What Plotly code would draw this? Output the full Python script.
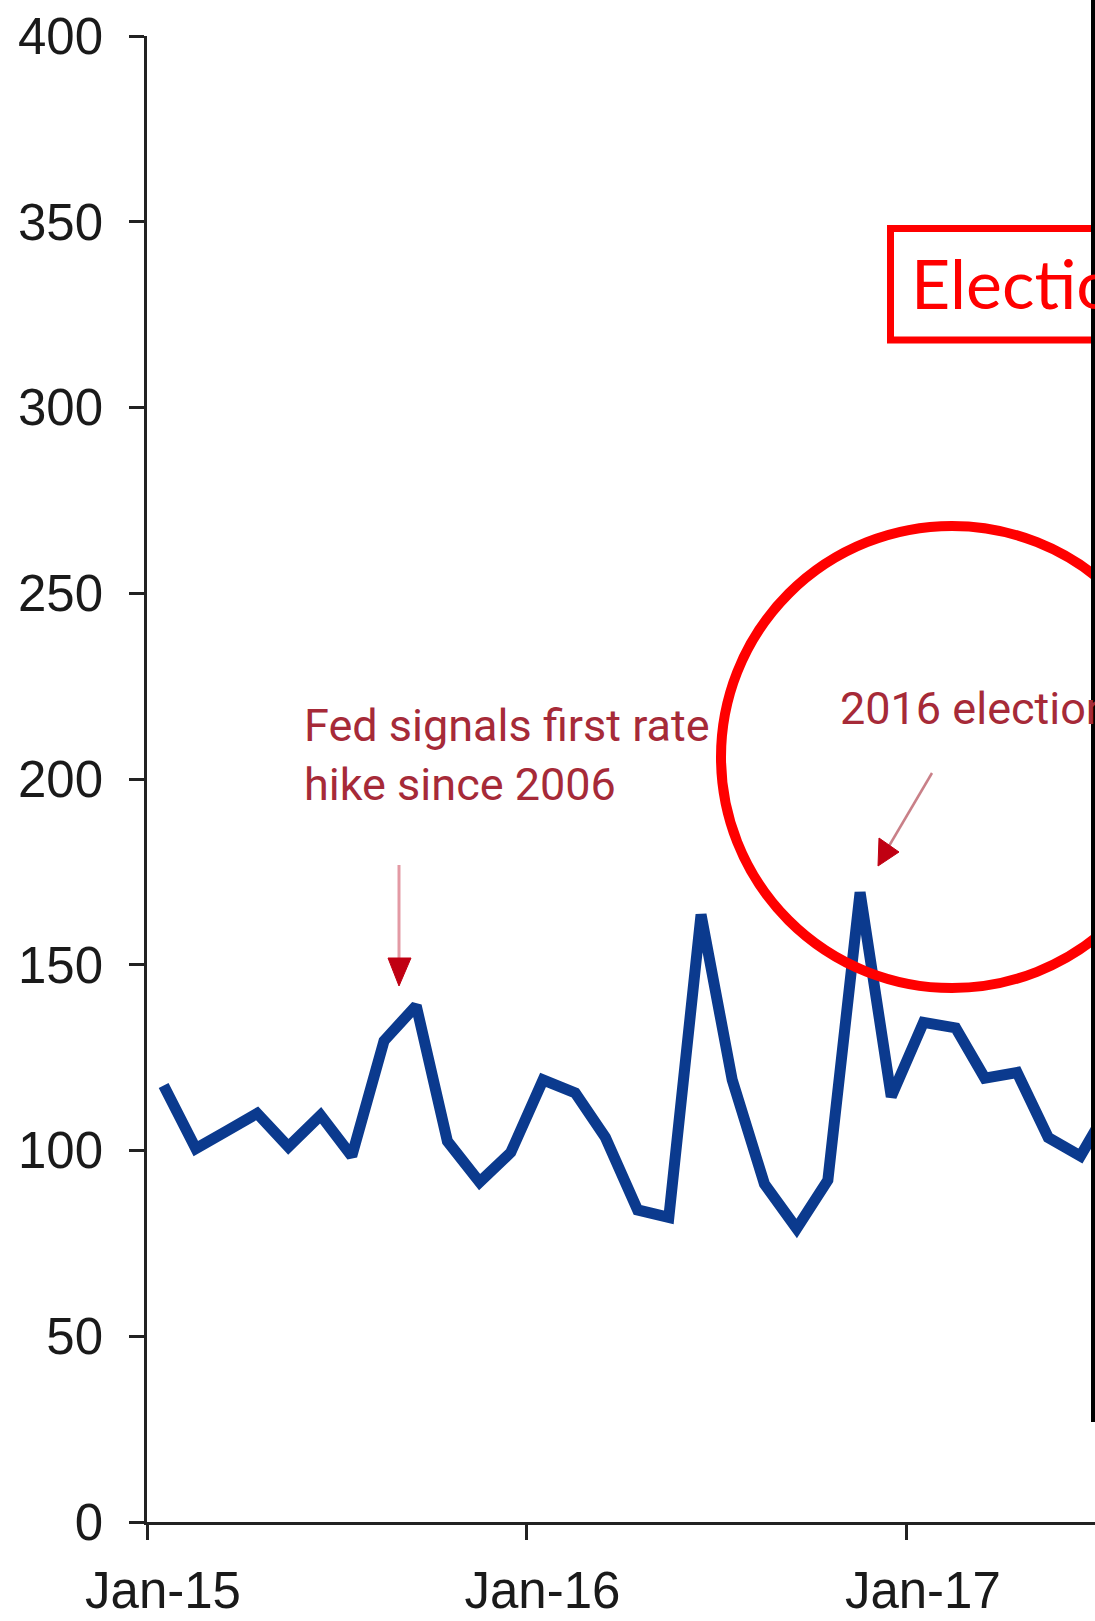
import plotly.graph_objects as go

# ---------------- data ----------------
dates = [
    "2015-01-17", "2015-02-17", "2015-03-17", "2015-04-17", "2015-05-17", "2015-06-17",
    "2015-07-17", "2015-08-17", "2015-09-17", "2015-10-17", "2015-11-17", "2015-12-17",
    "2016-01-17", "2016-02-17", "2016-03-17", "2016-04-17", "2016-05-17", "2016-06-17",
    "2016-07-17", "2016-08-17", "2016-09-17", "2016-10-17", "2016-11-17", "2016-12-17",
    "2017-01-17", "2017-02-17", "2017-03-17", "2017-04-17", "2017-05-17", "2017-06-17",
    "2017-07-17",
]
values = [
    117.5, 100.5, 105, 110, 101, 109.5, 98.5, 129.5, 139, 102.5, 91.5, 99.5,
    119, 115.5, 103.5, 84, 82, 163.5, 119, 91, 79, 92, 169.5, 114.5,
    134.5, 133, 119.5, 121, 103.5, 98.5, 113,
]
y_ticks = [0, 50, 100, 150, 200, 250, 300, 350, 400]
x_tick_dates = ["2015-01-01", "2016-01-01", "2017-01-01"]
x_tick_labels = ["Jan-15", "Jan-16", "Jan-17"]

fed_text = "Fed signals first rate<br>hike since 2006"
election16_text = "2016 election"
box_text = "Election"

# ---------------- layout helpers ----------------
W, H = 1095, 1621
L, R, T, B = 147, 1095, 36, 1522


def px(x):
    return (x - L) / (R - L)


def py(y):
    return (B - y) / (B - T)


TICK_FONT = dict(family="Liberation Sans, Arial, sans-serif", size=51, color="#1a1a1a")
ANN_FONT = dict(family="Roboto, Arial, sans-serif", size=45, color="#A62A38")

fig = go.Figure()
fig.add_trace(go.Scatter(
    x=dates, y=values, mode="lines",
    line=dict(color="#0B3A8E", width=11),
    hoverinfo="skip", showlegend=False,
))

shapes = []
# Fed arrow (line + head)
shapes.append(dict(type="line", xref="paper", yref="paper",
                   x0=px(399), y0=py(865), x1=px(399), y1=py(960),
                   line=dict(color="#E39AA4", width=3)))
shapes.append(dict(type="path", xref="paper", yref="paper",
                   path=f"M {px(388)} {py(958)} L {px(411)} {py(958)} L {px(399)} {py(986)} Z",
                   fillcolor="#C00012", line=dict(color="#C00012", width=1)))
# 2016 election arrow
shapes.append(dict(type="line", xref="paper", yref="paper",
                   x0=px(932), y0=py(773), x1=px(889), y1=py(846),
                   line=dict(color="#C98088", width=2.5)))
shapes.append(dict(type="path", xref="paper", yref="paper",
                   path=f"M {px(878)} {py(866)} L {px(879)} {py(838)} L {px(899)} {py(852)} Z",
                   fillcolor="#C00012", line=dict(color="#C00012", width=1)))
# red circle
cx, cy, r = 952, 757, 231
shapes.append(dict(type="circle", xref="paper", yref="paper",
                   x0=px(cx - r), x1=px(cx + r), y0=py(cy + r), y1=py(cy - r),
                   line=dict(color="#FF0000", width=10)))
# red box
shapes.append(dict(type="rect", xref="paper", yref="paper",
                   x0=px(890.5), x1=px(1200), y0=py(340), y1=py(228.5),
                   line=dict(color="#FF0000", width=7)))
# black border at right edge
shapes.append(dict(type="line", xref="paper", yref="paper",
                   x0=px(1093), x1=px(1093), y0=py(1422), y1=py(-10),
                   line=dict(color="#000000", width=4)))

annotations = [
    dict(text=fed_text, xref="paper", yref="paper", x=px(302), y=py(755),
         xanchor="left", yanchor="middle", align="left", showarrow=False, font=ANN_FONT),
    dict(text=election16_text, xref="paper", yref="paper", x=px(838), y=py(708),
         xanchor="left", yanchor="middle", align="left", showarrow=False, font=ANN_FONT),
    dict(text=box_text, xref="paper", yref="paper", x=px(909), y=py(283),
         xanchor="left", yanchor="middle", align="left", showarrow=False,
         font=dict(family="Lato, Carlito, Calibri, sans-serif", size=68, color="#FF0000")),
]

fig.update_layout(
    width=W, height=H, autosize=False,
    margin=dict(l=L, r=W - R, t=T, b=H - B, pad=0),
    paper_bgcolor="white", plot_bgcolor="white",
    shapes=shapes, annotations=annotations,
    showlegend=False,
)
fig.update_xaxes(
    type="date", range=["2015-01-01", "2017-07-01"],
    tickmode="array", tickvals=x_tick_dates, ticktext=x_tick_labels,
    showline=True, linecolor="#222222", linewidth=3,
    ticks="outside", ticklen=15, tickwidth=2.5, tickcolor="#222222",
    showgrid=False, zeroline=False, tickfont=TICK_FONT,
    ticklabelshift=16, ticklabelstandoff=7, automargin=False,
)
fig.update_yaxes(
    range=[0, 400], tickmode="array", tickvals=y_ticks,
    showline=True, linecolor="#222222", linewidth=2.5,
    ticks="outside", ticklen=15, tickwidth=2.5, tickcolor="#222222",
    showgrid=False, zeroline=False, tickfont=TICK_FONT,
    ticklabelstandoff=16, automargin=False,
)

fig.write_html("out.html")
